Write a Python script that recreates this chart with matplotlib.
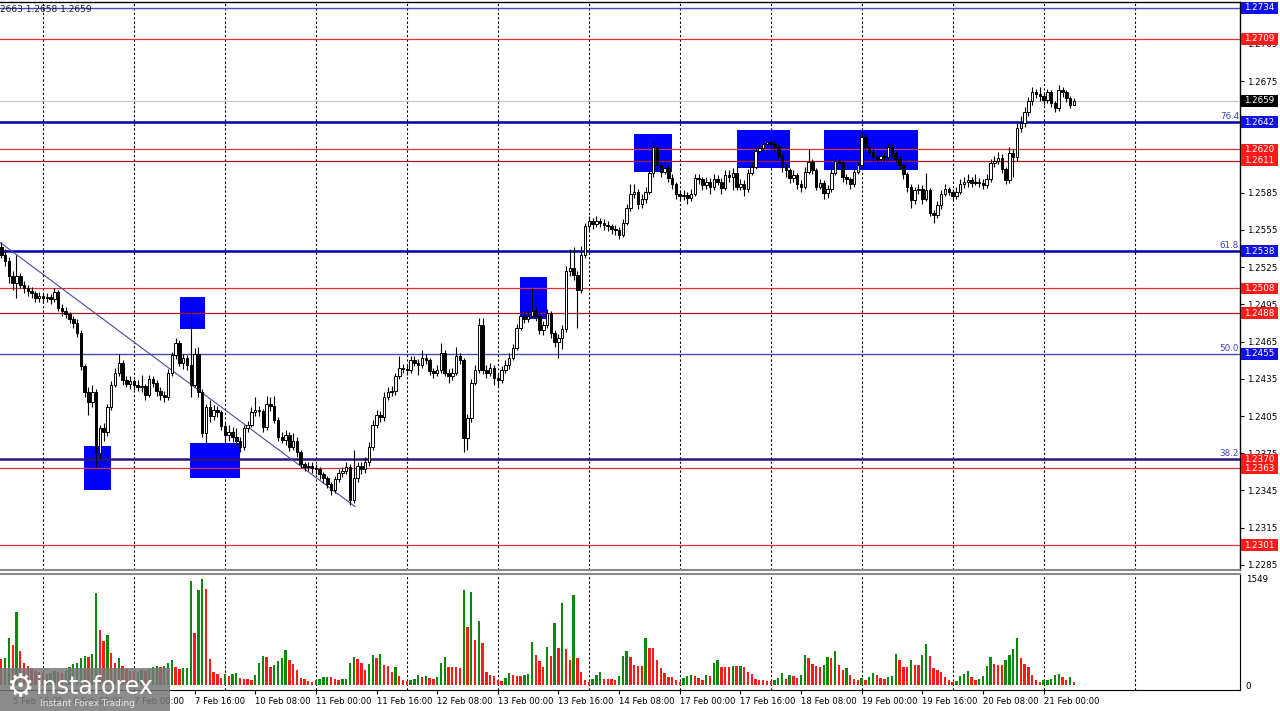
import numpy as np
import matplotlib.pyplot as plt
from matplotlib.patches import Rectangle

# GBPUSD H1, bars from 5 Feb 13:00 (index -11) to 21 Feb 08:00 (index 272)
first_open = 1.2541
closes = [
    1.2535, 1.2530, 1.2518, 1.2512, 1.2518, 1.2511, 1.2508, 1.2506, 1.2504, 1.2500, 1.2502,
    1.2500, 1.2501, 1.2499, 1.2505, 1.2492, 1.2490, 1.2487, 1.2483, 1.2480, 1.2472, 1.2445, 1.2424,
    1.2416, 1.2424, 1.2375, 1.2395, 1.2392, 1.2412, 1.2430, 1.2440, 1.2448, 1.2434, 1.2431, 1.2433,
    1.2430, 1.2428, 1.2429, 1.2422, 1.2435, 1.2432, 1.2425, 1.2422, 1.2420, 1.2440, 1.2454, 1.2464,
    1.2448, 1.2452, 1.2446, 1.2430, 1.2455, 1.2424, 1.2391, 1.2412, 1.2405, 1.2410, 1.2408, 1.2397,
    1.2390, 1.2392, 1.2388, 1.2385, 1.2380, 1.2395, 1.2398, 1.2408, 1.2410, 1.2409, 1.2396, 1.2415,
    1.2413, 1.2402, 1.2388, 1.2386, 1.2390, 1.2380, 1.2385, 1.2376, 1.2366, 1.2364, 1.2365, 1.2363,
    1.2362, 1.2358, 1.2355, 1.2350, 1.2345, 1.2354, 1.2359, 1.2361, 1.2364, 1.2337, 1.2355, 1.2365,
    1.2362, 1.2368, 1.2380, 1.2398, 1.2406, 1.2404, 1.2420, 1.2424, 1.2425, 1.2437, 1.2444, 1.2443,
    1.2442, 1.2450, 1.2448, 1.2446, 1.2452, 1.2450, 1.2441, 1.2440, 1.2442, 1.2456, 1.2440, 1.2437,
    1.2440, 1.2453, 1.2450, 1.2387, 1.2403, 1.2432, 1.2442, 1.2478, 1.2442, 1.2440, 1.2444, 1.2436,
    1.2434, 1.2442, 1.2446, 1.2452, 1.2460, 1.2476, 1.2486, 1.2483, 1.2486, 1.2490, 1.2486, 1.2474,
    1.2478, 1.2488, 1.2472, 1.2465, 1.2468, 1.2475, 1.2522, 1.2524, 1.2519, 1.2507, 1.2535, 1.2558,
    1.2562, 1.2560, 1.2562, 1.2561, 1.2559, 1.2558, 1.2556, 1.2555, 1.2551, 1.2561, 1.2573, 1.2584,
    1.2586, 1.2576, 1.2580, 1.2586, 1.2601, 1.2622, 1.2607, 1.2602, 1.2605, 1.2597, 1.2592, 1.2584,
    1.2582, 1.2583, 1.2581, 1.2584, 1.2597, 1.2596, 1.2591, 1.2594, 1.2590, 1.2596, 1.2594, 1.2589,
    1.2599, 1.2598, 1.2601, 1.2590, 1.2592, 1.2588, 1.2601, 1.2606, 1.2619, 1.2621, 1.2624, 1.2626,
    1.2624, 1.2622, 1.2615, 1.2606, 1.2603, 1.2597, 1.2599, 1.2592, 1.2590, 1.2602, 1.2610, 1.2603,
    1.2590, 1.2593, 1.2585, 1.2588, 1.2601, 1.2611, 1.2609, 1.2598, 1.2596, 1.2592, 1.2602, 1.2607,
    1.2630, 1.2622, 1.2618, 1.2614, 1.2612, 1.2615, 1.2614, 1.2622, 1.2617, 1.2612, 1.2607, 1.2600,
    1.2590, 1.2579, 1.2587, 1.2588, 1.2580, 1.2587, 1.2569, 1.2567, 1.2575, 1.2584, 1.2588, 1.2586,
    1.2582, 1.2586, 1.2592, 1.2594, 1.2595, 1.2593, 1.2594, 1.2593, 1.2591, 1.2596, 1.2609, 1.2611,
    1.2613, 1.2604, 1.2595, 1.2617, 1.2614, 1.2637, 1.2641, 1.2650, 1.2659, 1.2666, 1.2665, 1.2663,
    1.2660, 1.2666, 1.2657, 1.2653, 1.2668, 1.2666, 1.2661, 1.2656, 1.2659,
]
highs = [
    1.2545, 1.2540, 1.2533, 1.2522, 1.2535, 1.2520, 1.2514, 1.2511, 1.2509, 1.2506, 1.2505,
    1.2504, 1.2504, 1.2503, 1.2508, 1.2507, 1.2495, 1.2493, 1.2489, 1.2486, 1.2483, 1.2474, 1.2447,
    1.2428, 1.2430, 1.2427, 1.2398, 1.2399, 1.2415, 1.2433, 1.2444, 1.2455, 1.2450, 1.2437, 1.2437,
    1.2435, 1.2434, 1.2438, 1.2431, 1.2438, 1.2437, 1.2434, 1.2428, 1.2425, 1.2443, 1.2457, 1.2468,
    1.2466, 1.2455, 1.2454, 1.2489, 1.2460, 1.2461, 1.2427, 1.2415, 1.2418, 1.2414, 1.2413, 1.2410,
    1.2399, 1.2398, 1.2396, 1.2395, 1.2388, 1.2398, 1.2401, 1.2412, 1.2420, 1.2413, 1.2411, 1.2421,
    1.2420, 1.2421, 1.2404, 1.2392, 1.2394, 1.2392, 1.2391, 1.2388, 1.2378, 1.2368, 1.2368, 1.2368,
    1.2366, 1.2364, 1.2360, 1.2357, 1.2352, 1.2357, 1.2362, 1.2364, 1.2368, 1.2366, 1.2378, 1.2368,
    1.2368, 1.2372, 1.2384, 1.2402, 1.2410, 1.2409, 1.2424, 1.2428, 1.2429, 1.2440, 1.2453, 1.2447,
    1.2446, 1.2453, 1.2453, 1.2451, 1.2458, 1.2455, 1.2452, 1.2444, 1.2446, 1.2464, 1.2458, 1.2443,
    1.2444, 1.2461, 1.2456, 1.2452, 1.2407, 1.2435, 1.2446, 1.2484, 1.2484, 1.2446, 1.2448, 1.2446,
    1.2439, 1.2445, 1.2450, 1.2456, 1.2463, 1.2479, 1.2490, 1.2489, 1.2490, 1.2508, 1.2493, 1.2489,
    1.2482, 1.2491, 1.2490, 1.2474, 1.2471, 1.2478, 1.2526, 1.2540, 1.2541, 1.2522, 1.2542, 1.2561,
    1.2566, 1.2565, 1.2566, 1.2565, 1.2564, 1.2562, 1.2560, 1.2559, 1.2557, 1.2564, 1.2576, 1.2592,
    1.2592, 1.2588, 1.2584, 1.2590, 1.2605, 1.2626, 1.2624, 1.2610, 1.2609, 1.2607, 1.2600, 1.2594,
    1.2587, 1.2587, 1.2586, 1.2588, 1.2600, 1.2600, 1.2598, 1.2598, 1.2597, 1.2600, 1.2599, 1.2597,
    1.2603, 1.2603, 1.2605, 1.2607, 1.2596, 1.2595, 1.2604, 1.2610, 1.2622, 1.2624, 1.2628, 1.2629,
    1.2628, 1.2627, 1.2624, 1.2617, 1.2609, 1.2605, 1.2603, 1.2601, 1.2595, 1.2606, 1.2620, 1.2612,
    1.2605, 1.2596, 1.2595, 1.2591, 1.2604, 1.2614, 1.2614, 1.2611, 1.2600, 1.2598, 1.2605, 1.2610,
    1.2634, 1.2632, 1.2625, 1.2620, 1.2616, 1.2618, 1.2618, 1.2625, 1.2624, 1.2619, 1.2615, 1.2609,
    1.2602, 1.2592, 1.2590, 1.2592, 1.2591, 1.2601, 1.2589, 1.2571, 1.2578, 1.2587, 1.2592, 1.2590,
    1.2588, 1.2590, 1.2596, 1.2598, 1.2600, 1.2598, 1.2600, 1.2597, 1.2596, 1.2600, 1.2612, 1.2615,
    1.2618, 1.2616, 1.2606, 1.2622, 1.2620, 1.2641, 1.2647, 1.2654, 1.2662, 1.2670, 1.2669, 1.2670,
    1.2666, 1.2669, 1.2668, 1.2659, 1.2672, 1.2670, 1.2668, 1.2663, 1.2661,
]
lows = [
    1.2532, 1.2526, 1.2512, 1.2507, 1.2500, 1.2508, 1.2504, 1.2502, 1.2500, 1.2497, 1.2497,
    1.2496, 1.2497, 1.2495, 1.2497, 1.2490, 1.2486, 1.2484, 1.2480, 1.2476, 1.2469, 1.2442, 1.2420,
    1.2406, 1.2412, 1.2364, 1.2370, 1.2385, 1.2389, 1.2410, 1.2428, 1.2437, 1.2430, 1.2428, 1.2427,
    1.2426, 1.2425, 1.2424, 1.2418, 1.2420, 1.2428, 1.2421, 1.2418, 1.2416, 1.2418, 1.2437, 1.2451,
    1.2445, 1.2443, 1.2442, 1.2420, 1.2428, 1.2420, 1.2388, 1.2383, 1.2400, 1.2402, 1.2404, 1.2394,
    1.2383, 1.2385, 1.2384, 1.2381, 1.2376, 1.2378, 1.2392, 1.2396, 1.2405, 1.2405, 1.2392, 1.2394,
    1.2409, 1.2399, 1.2385, 1.2383, 1.2382, 1.2377, 1.2378, 1.2372, 1.2363, 1.2361, 1.2361, 1.2359,
    1.2358, 1.2354, 1.2351, 1.2347, 1.2341, 1.2343, 1.2352, 1.2356, 1.2358, 1.2333, 1.2335, 1.2352,
    1.2358, 1.2359, 1.2365, 1.2378, 1.2395, 1.2400, 1.2401, 1.2418, 1.2421, 1.2422, 1.2435, 1.2440,
    1.2438, 1.2440, 1.2445, 1.2438, 1.2444, 1.2447, 1.2438, 1.2436, 1.2437, 1.2440, 1.2437, 1.2432,
    1.2434, 1.2438, 1.2447, 1.2376, 1.2378, 1.2400, 1.2430, 1.2440, 1.2439, 1.2436, 1.2437, 1.2430,
    1.2428, 1.2432, 1.2440, 1.2443, 1.2450, 1.2458, 1.2474, 1.2480, 1.2481, 1.2484, 1.2482, 1.2471,
    1.2470, 1.2476, 1.2468, 1.2461, 1.2452, 1.2459, 1.2473, 1.2518, 1.2515, 1.2476, 1.2504, 1.2532,
    1.2555, 1.2556, 1.2557, 1.2557, 1.2555, 1.2554, 1.2552, 1.2551, 1.2548, 1.2549, 1.2559, 1.2570,
    1.2581, 1.2572, 1.2573, 1.2577, 1.2584, 1.2598, 1.2604, 1.2598, 1.2600, 1.2594, 1.2588, 1.2580,
    1.2578, 1.2579, 1.2576, 1.2578, 1.2582, 1.2592, 1.2587, 1.2588, 1.2584, 1.2587, 1.2591, 1.2584,
    1.2587, 1.2594, 1.2587, 1.2587, 1.2587, 1.2582, 1.2586, 1.2599, 1.2604, 1.2616, 1.2618, 1.2621,
    1.2620, 1.2618, 1.2612, 1.2602, 1.2598, 1.2593, 1.2594, 1.2588, 1.2586, 1.2588, 1.2600, 1.2600,
    1.2587, 1.2588, 1.2580, 1.2581, 1.2586, 1.2599, 1.2605, 1.2594, 1.2592, 1.2588, 1.2590, 1.2600,
    1.2605, 1.2619, 1.2615, 1.2611, 1.2609, 1.2610, 1.2611, 1.2612, 1.2614, 1.2609, 1.2604, 1.2596,
    1.2586, 1.2573, 1.2576, 1.2584, 1.2576, 1.2578, 1.2566, 1.2561, 1.2565, 1.2572, 1.2582, 1.2583,
    1.2579, 1.2580, 1.2584, 1.2589, 1.2590, 1.2590, 1.2591, 1.2590, 1.2588, 1.2589, 1.2594, 1.2606,
    1.2608, 1.2601, 1.2592, 1.2593, 1.2598, 1.2611, 1.2634, 1.2638, 1.2647, 1.2656, 1.2661, 1.2659,
    1.2656, 1.2657, 1.2654, 1.2650, 1.2651, 1.2662, 1.2658, 1.2653, 1.2656,
]
volumes = [
    374, 397, 691, 584, 1074, 490, 327, 280, 234, 210, 187,
    170, 160, 180, 200, 190, 175, 210, 260, 300, 327, 397, 430,
    411, 453, 1345, 803, 644, 733, 467, 327, 397, 280, 234, 200,
    187, 196, 224, 210, 234, 257, 280, 257, 280, 327, 360, 266,
    234, 243, 248, 1527, 757, 1387, 1549, 1400, 374, 187, 154, 103,
    159, 131, 164, 177, 107, 93, 84, 79, 140, 318, 420, 411,
    266, 290, 350, 397, 514, 360, 304, 224, 103, 93, 65, 47,
    79, 93, 112, 121, 112, 89, 75, 84, 93, 318, 411, 383,
    327, 219, 304, 444, 397, 458, 294, 280, 196, 266, 126, 70,
    65, 79, 93, 140, 117, 131, 107, 93, 112, 318, 411, 266,
    262, 257, 243, 1392, 841, 1354, 654, 934, 616, 187, 140, 126,
    79, 61, 103, 173, 140, 131, 126, 140, 154, 626, 444, 350,
    266, 560, 420, 911, 537, 1200, 528, 360, 1317, 388, 187, 79,
    47, 93, 140, 187, 93, 89, 84, 70, 126, 420, 490, 411,
    294, 280, 271, 691, 546, 541, 364, 248, 177, 117, 112, 70,
    47, 103, 126, 140, 131, 103, 79, 140, 136, 318, 364, 266,
    262, 257, 280, 271, 280, 257, 196, 154, 93, 75, 70, 65,
    61, 70, 103, 177, 93, 140, 126, 107, 140, 444, 397, 304,
    271, 266, 294, 411, 397, 504, 294, 219, 243, 140, 93, 79,
    103, 79, 117, 177, 140, 103, 84, 117, 126, 458, 364, 266,
    262, 364, 290, 285, 444, 593, 430, 248, 224, 187, 117, 70,
    47, 56, 126, 154, 201, 117, 79, 93, 126, 280, 411, 304,
    290, 285, 360, 444, 528, 686, 397, 304, 266, 140, 79, 37,
    70, 79, 93, 140, 154, 117, 70, 117, 47,
]

# horizontal levels
levels = [1.2734, 1.2709, 1.2659, 1.2642, 1.2620, 1.2611, 1.2538, 1.2508, 1.2488, 1.2455, 1.2370, 1.2363, 1.2301]
level_kind = ['fib_thin', 'red', 'price', 'fib', 'red', 'red2', 'fib', 'red', 'red2', 'fib_thin', 'fib38', 'red', 'red']
fib_labels = {1.2642: '76.4', 1.2538: '61.8', 1.2455: '50.0', 1.2370: '38.2'}
# scale ticks that are not hidden under the level boxes
price_ticks = [1.2285, 1.2315, 1.2345, 1.2375, 1.2405, 1.2435, 1.2465, 1.2495, 1.2525,
               1.2555, 1.2585, 1.2675, 1.2705]

# blue zones: (bar from, bar to, price low, price high)
zones = [(10.8, 17.9, 1.2345, 1.2381), (36.1, 42.7, 1.2475, 1.2501), (38.8, 52.0, 1.2355, 1.2383),
         (125.9, 133.0, 1.2483, 1.2517), (155.9, 166.0, 1.2602, 1.2632),
         (183.1, 197.1, 1.2605, 1.2636), (206.1, 230.9, 1.2603, 1.2636)]
trend_t = [-11.35, 82.3]
trend_p = [1.2545, 1.2332]

date_idx = [-8, 8, 24, 40, 56, 72, 88, 104, 120, 136, 152, 168, 184, 200, 216, 232, 248, 264]
date_lab = ['5 Feb 16:00', '6 Feb 08:00', '7 Feb 00:00', '7 Feb 16:00', '10 Feb 08:00', '11 Feb 00:00',
            '11 Feb 16:00', '12 Feb 08:00', '13 Feb 00:00', '13 Feb 16:00', '14 Feb 08:00', '17 Feb 00:00',
            '17 Feb 16:00', '18 Feb 08:00', '19 Feb 00:00', '19 Feb 16:00', '20 Feb 08:00', '21 Feb 00:00']
grid_idx = list(range(0, 300, 24))

W, H = 1280, 711
step = 3.79
fig = plt.figure(figsize=(12.8, 7.11), dpi=100)
ax = fig.add_axes([0, 1 - 570 / H, 1240 / W, 568 / H])
axv = fig.add_axes([0, 1 - 690 / H, 1240 / W, 116 / H], sharex=ax)

idx = np.arange(-11, -11 + len(closes))
c = np.array(closes)
o = np.array([first_open] + closes[:-1])
up = c >= o

ax.set_xlim(-43 / step, (1240 - 43) / step)
ax.set_ylim(1.228085, 1.27388)

for g in grid_idx:
    ax.axvline(g, color='black', lw=0.8, ls=(0, (2, 2)), zorder=1)
    axv.axvline(g, color='black', lw=0.8, ls=(0, (2, 2)), zorder=1)

for t0, t1, p0, p1 in zones:
    ax.add_patch(Rectangle((t0, p0), t1 - t0, p1 - p0, fc='#0000ff', ec='none', zorder=2))

styles = {
    'red': ('#e03030', 0.9, '#ff1a1a'),
    'red2': ('#b01818', 0.9, '#ff1a1a'),
    'fib': ('#0000a8', 1.8, '#1010e8'),
    'fib_thin': ('#4848b0', 1.0, '#1010e8'),
    'fib38': ('#30107a', 1.8, '#ff1a1a'),
    'price': ('#c8c8c8', 0.9, '#000000'),
}
ytr = ax.get_yaxis_transform()
for lev, kind in zip(levels, level_kind):
    lc, lw, bc = styles[kind]
    ax.axhline(lev, color=lc, lw=lw, zorder=3)
    ax.add_patch(Rectangle((1.0008, lev - 0.00045), 0.0298, 0.0009, transform=ytr,
                           fc=bc, ec='none', clip_on=False, zorder=20))
    ax.text(1.0157, lev, f'{lev:.4f}', transform=ytr, ha='center', va='center',
            color='white', fontsize=6.3, clip_on=False, zorder=21)
    if lev in fib_labels:
        ax.text(0.9992, lev + 0.00012, fib_labels[lev], transform=ytr, ha='right', va='bottom',
                color='#4040c0', fontsize=6.3, zorder=6)

ax.plot(trend_t, trend_p, color='#4a4aa0', lw=0.8, zorder=3)

# candles
ax.vlines(idx, lows, highs, color='black', lw=0.8, zorder=4)
body_lo = np.minimum(o, c)
body_h = np.maximum(np.abs(c - o), 0.00005)
ax.bar(idx[up], body_h[up], bottom=body_lo[up], width=0.66, color='white',
       edgecolor='black', lw=0.7, zorder=5)
ax.bar(idx[~up], body_h[~up], bottom=body_lo[~up], width=0.66, color='black',
       edgecolor='black', lw=0.7, zorder=5)

ax.yaxis.tick_right()
ax.set_yticks(price_ticks)
ax.set_yticklabels([f'{p:.4f}' for p in price_ticks])
ax.tick_params(axis='y', direction='out', length=3, width=0.8, labelsize=6.3, pad=2, colors='black')
ax.tick_params(axis='x', bottom=False, labelbottom=False)
ax.spines['left'].set_visible(False)
ax.spines['bottom'].set_color('#888888')
ax.spines['bottom'].set_linewidth(1.5)
for s in ['top', 'right']:
    ax.spines[s].set_linewidth(1.0)

# volumes
v = np.array(volumes)
vcol = ['#ff1a1a'] + ['#0a8a0a' if v[k] > v[k - 1] else '#ff1a1a' for k in range(1, len(v))]
axv.bar(idx, v, width=0.62, color=vcol, zorder=3)
axv.set_ylim(-73, 1622)
axv.yaxis.tick_right()
axv.set_yticks([0, 1549])
axv.set_yticklabels(['0', '1549'])
axv.tick_params(axis='y', length=0, labelsize=6.3, pad=4)
axv.set_xticks(date_idx)
axv.set_xticklabels(date_lab, ha='left', fontsize=6.1)
axv.tick_params(axis='x', direction='out', length=3, width=0.8, pad=2)
axv.spines['left'].set_visible(False)
axv.spines['top'].set_color('#888888')
axv.spines['top'].set_linewidth(1.5)

# top-left quote and watermark
fig.text(0.0, 1 - 10 / H, '2663 1.2658 1.2659', fontsize=6.5, color='#1a1a3a', va='center', ha='left')
fig.add_artist(Rectangle((0, 0), 170 / W, 43 / H, transform=fig.transFigure,
                         fc='#787878', ec='none', alpha=0.85, zorder=30))
fig.text(6 / W, 1 - 688 / H, '\u2699', fontsize=22, color='white', va='center', ha='left', zorder=31)
fig.text(36 / W, 1 - 687 / H, 'instaforex', fontsize=17, color='white', va='center', ha='left', zorder=31)
fig.text(40 / W, 1 - 703 / H, 'Instant Forex Trading', fontsize=6.5, color='#e8e8e8',
         va='center', ha='left', zorder=31)

fig.savefig('out.png', dpi=100)
